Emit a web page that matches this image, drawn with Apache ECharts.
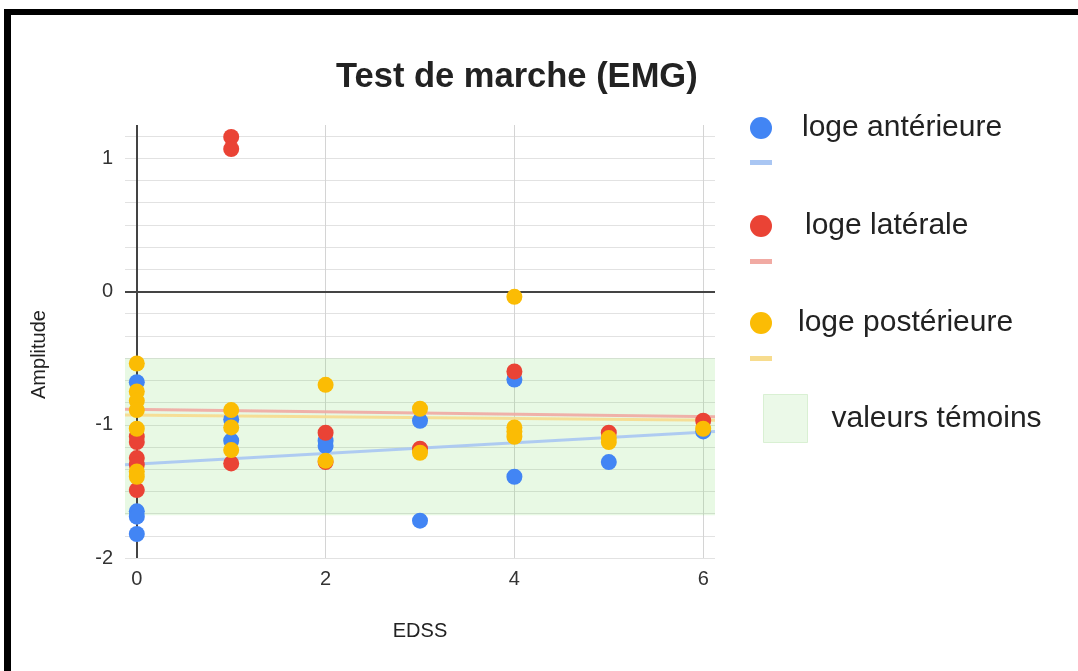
<!DOCTYPE html>
<html>
<head>
<meta charset="utf-8">
<title>Test de marche (EMG)</title>
<script src="https://cdn.jsdelivr.net/npm/echarts@6.0.0/dist/echarts.min.js"></script>
<style>
  html, body { margin: 0; padding: 0; background: #fff; }
  #chart { width: 1078px; height: 671px; }
</style>
</head>
<body>
<div id="chart"></div>
<script>
// EDSS / amplitude for each muscle compartment
var anterieureX = [0, 0, 0, 0, 1, 1, 2, 2, 3, 3, 4, 4, 5, 6]
var anterieureY = [-0.68, -1.65, -1.69, -1.82, -0.96, -1.12, -1.12, -1.16, -0.97, -1.72, -0.66, -1.39, -1.28, -1.05]

var lateraleX = [0, 0, 0, 0, 0, 1, 1, 1, 2, 2, 3, 4, 5, 6]
var lateraleY = [-1.09, -1.13, -1.25, -1.30, -1.49, 1.16, 1.07, -1.29, -1.06, -1.28, -1.18, -0.60, -1.06, -0.97]

var posterieureX = [0, 0, 0, 0, 0, 0, 0, 1, 1, 1, 2, 2, 3, 3, 4, 4, 4, 4, 5, 5, 6]
var posterieureY = [-0.54, -0.75, -0.82, -0.89, -1.03, -1.35, -1.39, -0.89, -1.02, -1.19, -0.70, -1.27, -0.88, -1.21, -0.04, -1.02, -1.05, -1.09, -1.10, -1.13, -1.03]

// trend lines, value at both ends of the x range
var trendX = [-0.125, 6.125]
var trendAnterieure = [-1.30, -1.05]
var trendLaterale = [-0.884, -0.94]
var trendPosterieure = [-0.927, -0.966]

// control band (valeurs témoins)
var temoinsBand = [-0.5, -1.68]

var xTickLabels = [0, 2, 4, 6]
var yTickLabels = [-2, -1, 0, 1]

var FONT = "'Liberation Sans', Arial, Helvetica, sans-serif"

function pairs(xs, ys) {
  var out = []
  for (var i = 0; i < xs.length; i++) out.push([xs[i], ys[i]])
  return out
}

// minor horizontal grid every 1/6
var yGrid = []
for (var k = -12; k <= 7; k++) yGrid.push(k / 6)

var chart = echarts.init(document.getElementById('chart'), null, { renderer: 'canvas' })

var legendText = { fontSize: 30, color: '#222', fontFamily: FONT }
// legend box is laid out from the icon's own bounds, so left = circle left edge
function dotLegend(name, top, w) {
  return {
    data: [{ name: name, icon: 'circle' }],
    left: 750, top: top, padding: 0,
    itemWidth: w, itemHeight: 22,
    selectedMode: false,
    textStyle: legendText
  }
}
function lineLegend(name, top) {
  return {
    data: [{ name: name, icon: 'rect' }],
    left: 750, top: top, padding: 0,
    itemWidth: 22, itemHeight: 5,
    selectedMode: false,
    formatter: function () { return '' }
  }
}

var option = {
  animation: false,
  textStyle: { fontFamily: FONT },
  title: {
    text: 'Test de marche (EMG)',
    left: 331, top: 55,
    textStyle: { fontSize: 34.5, fontWeight: 'bold', color: '#222', fontFamily: FONT }
  },
  graphic: [
    { type: 'rect', shape: { x: 4, y: 9, width: 1074, height: 6 }, style: { fill: '#000' } },
    { type: 'rect', shape: { x: 4, y: 9, width: 7, height: 662 }, style: { fill: '#000' } }
  ],
  legend: [
    dotLegend('loge antérieure', 113, 72),
    lineLegend('tendance antérieure', 160),
    dotLegend('loge latérale', 211, 78),
    lineLegend('tendance latérale', 259),
    dotLegend('loge postérieure', 308, 64),
    lineLegend('tendance postérieure', 356),
    {
      data: [{
        name: 'valeurs témoins',
        icon: 'path://M0,0 L44,0 L44,48 L0,48 Z',
        itemStyle: { color: '#e6f8e2', borderColor: '#d2eccb', borderWidth: 1 }
      }],
      left: 763, top: 394, padding: 0,
      itemWidth: 82, itemHeight: 48,
      selectedMode: false,
      textStyle: legendText
    }
  ],
  grid: { left: 125, right: 363, top: 125, bottom: 113 },
  xAxis: {
    type: 'value',
    min: -0.125, max: 6.125,
    name: 'EDSS',
    nameLocation: 'middle',
    nameGap: 63,
    nameTextStyle: { fontSize: 20, color: '#222', fontFamily: FONT },
    axisLine: { show: false },
    axisTick: { show: false, customValues: xTickLabels },
    axisLabel: { customValues: xTickLabels, fontSize: 20, color: '#333', margin: 11 },
    splitLine: { show: true, lineStyle: { color: '#d4d4d4', width: 1 } }
  },
  yAxis: {
    type: 'value',
    min: -2, max: 1.25,
    name: 'Amplitude',
    nameLocation: 'middle',
    nameGap: 76,
    nameTextStyle: { fontSize: 20, color: '#222', fontFamily: FONT, padding: [0, 26, 0, 0] },
    axisLine: { show: false },
    axisTick: { show: false, customValues: yGrid },
    axisLabel: { customValues: yTickLabels, fontSize: 20, color: '#333', margin: 12 },
    splitLine: { show: true, lineStyle: { color: '#e2e2e2', width: 1 } }
  },
  series: [
    {
      name: 'valeurs témoins',
      type: 'scatter',
      data: [],
      itemStyle: { color: '#e6f8e2' },
      markArea: {
        silent: true,
        itemStyle: { color: 'rgba(110, 215, 90, 0.16)' },
        data: [[{ yAxis: temoinsBand[0] }, { yAxis: temoinsBand[1] }]]
      },
      markLine: {
        silent: true,
        z: 1,
        symbol: ['none', 'none'],
        label: { show: false },
        lineStyle: { color: '#444', width: 2, type: 'solid' },
        data: [{ yAxis: 0 }, { xAxis: 0 }]
      }
    },
    {
      name: 'tendance antérieure',
      type: 'line',
      color: '#a9c6f3',
      showSymbol: false,
      lineStyle: { width: 3, opacity: 0.9 },
      data: pairs(trendX, trendAnterieure)
    },
    {
      name: 'tendance latérale',
      type: 'line',
      color: '#f1aaa3',
      showSymbol: false,
      lineStyle: { width: 3, opacity: 0.9 },
      data: pairs(trendX, trendLaterale)
    },
    {
      name: 'tendance postérieure',
      type: 'line',
      color: '#f7dc8e',
      showSymbol: false,
      lineStyle: { width: 3, opacity: 0.9 },
      data: pairs(trendX, trendPosterieure)
    },
    {
      name: 'loge antérieure',
      type: 'scatter',
      color: '#4285f4',
      itemStyle: { opacity: 1 },
      symbolSize: 16,
      z: 3,
      data: pairs(anterieureX, anterieureY)
    },
    {
      name: 'loge latérale',
      type: 'scatter',
      color: '#ea4335',
      itemStyle: { opacity: 1 },
      symbolSize: 16,
      z: 3,
      data: pairs(lateraleX, lateraleY)
    },
    {
      name: 'loge postérieure',
      type: 'scatter',
      color: '#fbbc04',
      itemStyle: { opacity: 1 },
      symbolSize: 16,
      z: 3,
      data: pairs(posterieureX, posterieureY)
    }
  ]
}

chart.setOption(option)
</script>
</body>
</html>
